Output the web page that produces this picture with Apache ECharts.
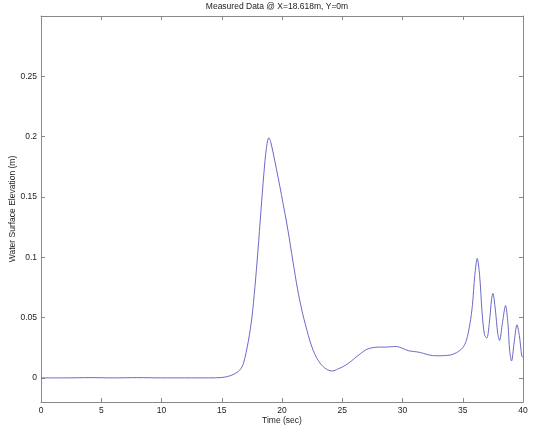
<!DOCTYPE html>
<html>
<head>
<meta charset="utf-8">
<script src="https://cdn.jsdelivr.net/npm/echarts@6/dist/echarts.min.js"></script>
<style>html,body{margin:0;padding:0;background:#fff}#c{width:554px;height:434px}</style>
</head>
<body>
<div id="c"></div>
<script>
const timeSec = [0,2,4,6,8,10,12,14,15,15.5,16,16.5,16.8,17.2,17.5,17.75,18.0,18.25,18.5,18.7,18.9,19.05,19.4,19.95,20.5,20.9,21.3,21.65,22.0,22.4,22.8,23.3,23.8,24.2,24.6,25.0,25.5,26.0,26.5,27.0,27.5,28.0,28.5,29.0,29.5,30.0,30.5,31.0,31.5,32.0,32.5,33.0,33.5,34.0,34.5,35.0,35.3,35.6,35.8,36.0,36.2,36.4,36.6,36.8,37.0,37.2,37.4,37.5,37.7,37.9,38.05,38.3,38.55,38.75,38.9,39.05,39.25,39.5,39.7,39.9,40];
const elevation = [0,0,0.0002,0,0.0002,0,0,0,0.0003,0.0012,0.003,0.0065,0.012,0.03,0.05,0.075,0.105,0.138,0.17,0.19,0.199,0.196,0.18,0.152,0.122,0.097,0.073,0.056,0.042,0.028,0.018,0.0105,0.0066,0.0057,0.0072,0.009,0.012,0.016,0.02,0.0235,0.025,0.0255,0.0255,0.0258,0.026,0.0245,0.0225,0.0218,0.021,0.0195,0.0185,0.0183,0.0185,0.019,0.021,0.025,0.031,0.045,0.06,0.085,0.099,0.085,0.055,0.036,0.033,0.045,0.066,0.07,0.057,0.037,0.031,0.046,0.06,0.045,0.022,0.014,0.028,0.044,0.035,0.018,0.017];
const yTicks = [0,0.05,0.1,0.15,0.2,0.25];
const yTickLabels = ['0','0.05','0.1','0.15','0.2','0.25'];
const titleText = 'Measured Data @ X=18.618m, Y=0m';
const xName = 'Time (sec)';
const yName = 'Water Surface Elevation (m)';

const font = 'Liberation Sans, Arial, sans-serif';
const fs = 8.5;
const axisCol = '#888888';
const txtCol = '#222222';
const chart = echarts.init(document.getElementById('c'), null, {renderer:'canvas'});
const baseX = {
  type:'value', min:0, max:40, interval:5,
  axisLine:{show:true, onZero:false, lineStyle:{color:axisCol, width:1}},
  axisTick:{show:true, inside:true, length:4, lineStyle:{color:axisCol}},
  splitLine:{show:false}
};
const baseY = {
  type:'value', min:-0.02, max:0.3,
  axisLine:{show:true, onZero:false, lineStyle:{color:axisCol, width:1}},
  axisTick:{show:true, inside:true, length:4, customValues:yTicks, lineStyle:{color:axisCol}},
  splitLine:{show:false}
};
chart.setOption({
  animation:false,
  backgroundColor:'#fff',
  title:{text:titleText, left:'center', top:2, padding:0, textStyle:{fontFamily:font, fontSize:fs, fontWeight:'normal', color:txtCol}},
  grid:{left:41, right:31, top:16, bottom:32, containLabel:false, outerBoundsMode:'none'},
  xAxis:[
    Object.assign({}, baseX, {position:'bottom', name:xName, nameLocation:'middle', nameGap:14, nameMoveOverlap:false,
      nameTextStyle:{fontFamily:font, fontSize:fs, color:txtCol},
      axisLabel:{show:true, margin:4, fontFamily:font, fontSize:fs, color:txtCol}}),
    Object.assign({}, baseX, {position:'top', axisLabel:{show:false}})
  ],
  yAxis:[
    Object.assign({}, baseY, {position:'left', name:yName, nameLocation:'middle', nameGap:24, nameMoveOverlap:false,
      nameTextStyle:{fontFamily:font, fontSize:fs, color:txtCol},
      axisLabel:{show:true, margin:4, fontFamily:font, fontSize:fs, color:txtCol, customValues:yTicks,
        formatter:function(v){const i=yTicks.findIndex(t=>Math.abs(t-v)<1e-9);return i>=0?yTickLabels[i]:'';}}}),
    Object.assign({}, baseY, {position:'right', axisLabel:{show:false}})
  ],
  series:[{
    type:'line', xAxisIndex:0, yAxisIndex:0,
    data: timeSec.map((t,i)=>[t, elevation[i]]),
    showSymbol:false, smooth:0.3,
    lineStyle:{color:'#6a6ac8', width:1},
    itemStyle:{color:'#6a6ac8'}
  }]
});
</script>
</body>
</html>
